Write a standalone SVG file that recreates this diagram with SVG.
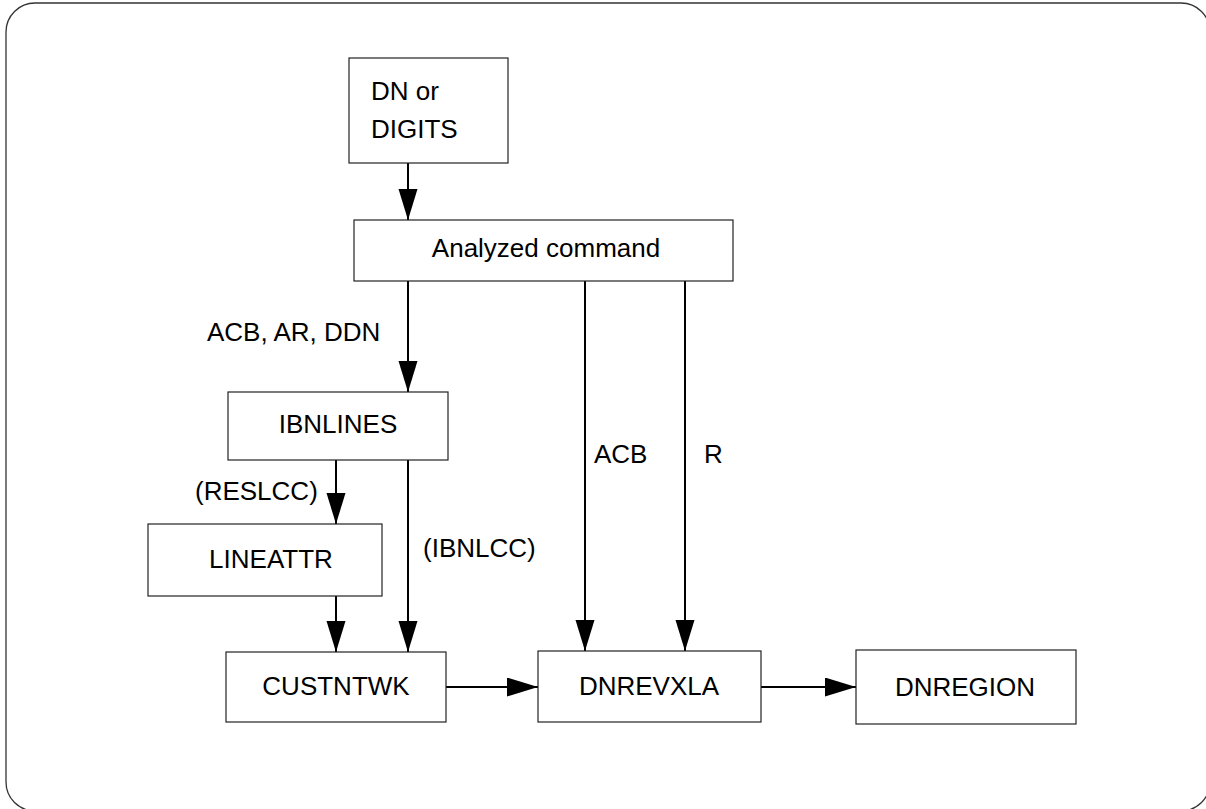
<svg xmlns="http://www.w3.org/2000/svg" width="1206" height="809" viewBox="0 0 1206 809">
  <style>
    .frame { fill: none; stroke: #333; stroke-width: 1.3; }
    .box { fill: #fff; stroke: #222; stroke-width: 1.2; }
    .lbl { font-family: "Liberation Sans", Arial, sans-serif; font-size: 26px; fill: #000; }
    .mid { text-anchor: middle; }
    .edge { fill: none; stroke: #000; stroke-width: 2; marker-end: url(#arrow); }
  </style>
  <defs>
    <marker id="arrow" markerUnits="userSpaceOnUse" markerWidth="32" markerHeight="20" refX="31" refY="9.5" orient="auto">
      <path d="M0,0 L31,9.5 L0,19 Z" fill="#000"/>
    </marker>
  </defs>

  <rect class="frame" x="6" y="3" width="1204" height="808" rx="29" ry="29"/>

  <g id="connectors">
    <line class="edge" x1="408" y1="163" x2="408" y2="220"/>
    <line class="edge" x1="408" y1="281" x2="408" y2="392"/>
    <line class="edge" x1="585" y1="281" x2="585" y2="651"/>
    <line class="edge" x1="685" y1="281" x2="685" y2="651"/>
    <line class="edge" x1="336" y1="460" x2="336" y2="524"/>
    <line class="edge" x1="408" y1="460" x2="408" y2="652"/>
    <line class="edge" x1="336" y1="596" x2="336" y2="652"/>
    <line class="edge" x1="446" y1="687" x2="538" y2="687"/>
    <line class="edge" x1="761" y1="687" x2="856" y2="687"/>
    <text class="lbl" x="207" y="341">ACB, AR, DDN</text>
    <text class="lbl" x="594" y="463">ACB</text>
    <text class="lbl" x="704" y="463">R</text>
    <text class="lbl" x="195" y="500">(RESLCC)</text>
    <text class="lbl" x="423" y="557">(IBNLCC)</text>
  </g>

  <g id="dn-digits">
    <rect class="box" x="349" y="58" width="159" height="105"/>
    <text class="lbl" x="371" y="100">DN or</text>
    <text class="lbl" x="371" y="138">DIGITS</text>
  </g>

  <g id="analyzed-command">
    <rect class="box" x="354" y="220" width="379" height="61"/>
    <text class="lbl mid" x="546" y="257">Analyzed command</text>
  </g>

  <g id="ibnlines">
    <rect class="box" x="228" y="392" width="220" height="68"/>
    <text class="lbl mid" x="338" y="433">IBNLINES</text>
  </g>

  <g id="lineattr">
    <rect class="box" x="148" y="524" width="234" height="72"/>
    <text class="lbl mid" x="271" y="568">LINEATTR</text>
  </g>

  <g id="custntwk">
    <rect class="box" x="226" y="652" width="220" height="70"/>
    <text class="lbl mid" x="336" y="695">CUSTNTWK</text>
  </g>

  <g id="dnrevxla">
    <rect class="box" x="538" y="651" width="223" height="71"/>
    <text class="lbl mid" x="649" y="695">DNREVXLA</text>
  </g>

  <g id="dnregion">
    <rect class="box" x="856" y="650" width="220" height="74"/>
    <text class="lbl mid" x="965" y="696">DNREGION</text>
  </g>
</svg>
